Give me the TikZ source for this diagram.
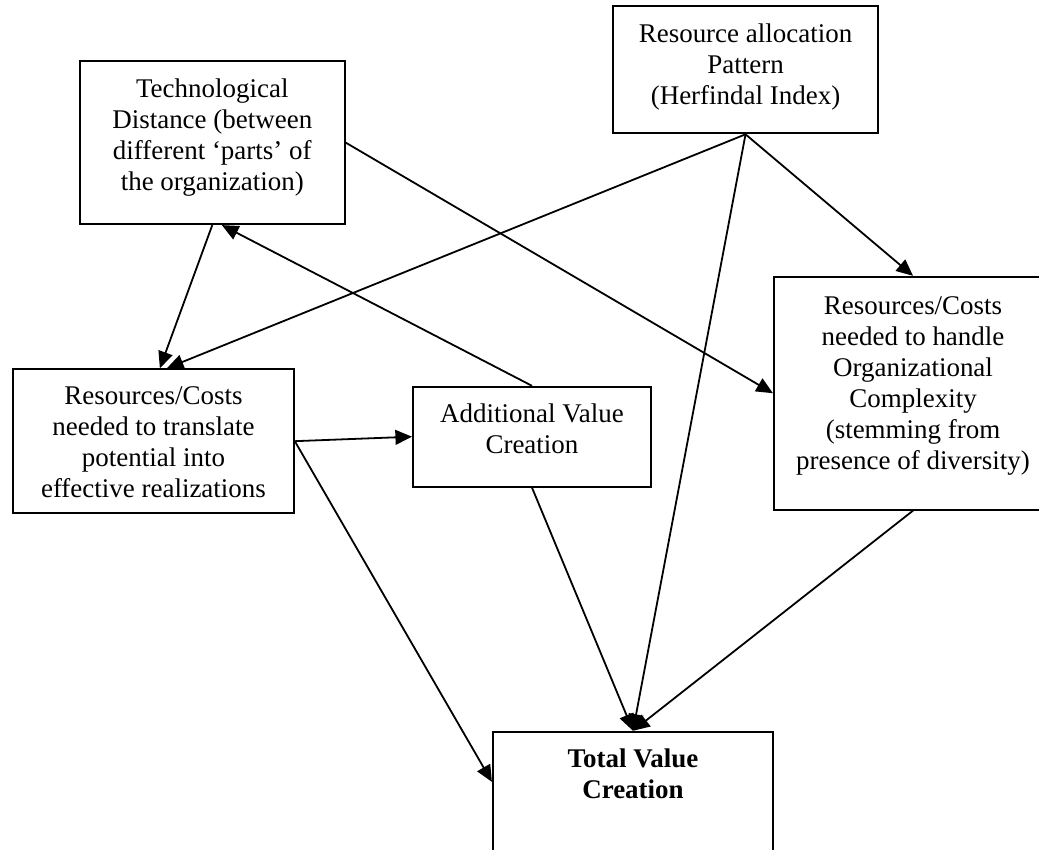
\documentclass[tikz,border=0pt]{standalone}
\usepackage{fontspec}
\setmainfont{Liberation Serif}
\usepackage{tikz}
\usetikzlibrary{arrows.meta,positioning,calc}
\tikzset{
  bx/.style={draw, line width=.9pt, inner sep=0pt},
  txt/.style={align=center, inner sep=0pt, font=\fontsize{12}{13.8}\selectfont},
  ar/.style={-{Triangle[length=2.6mm,width=2.3mm]}, line width=.8pt},
}

\begin{document}
\begin{tikzpicture}
    \useasboundingbox (0,0) rectangle (16.25,-13.28);
    % boxes
    \node[bx, minimum width=4.14cm, minimum height=2.55cm] (td) at (3.32,-2.23) {};
    \node[bx, minimum width=4.14cm, minimum height=1.99cm] (ra) at (11.66,-1.09) {};
    \node[bx, minimum width=4.39cm, minimum height=2.25cm] (rct) at (2.40,-6.90) {};
    \node[bx, minimum width=3.72cm, minimum height=1.56cm] (avc) at (8.32,-6.83) {};
    \node[bx, minimum width=4.35cm, minimum height=3.64cm] (rco) at (14.28,-6.15) {};
    \node[bx, minimum width=4.38cm, minimum height=2.19cm] (tvc) at (9.90,-12.54) {};
    % texts, top aligned
    \node[txt, below=0.28cm of td.north] (tdt) {Technological\\Distance (between\\different `parts' of\\the organization)};
    \node[txt, below=0.28cm of ra.north] (rat) {Resource allocation\\Pattern\\(Herfindal Index)};
    \node[txt, below=0.28cm of rct.north] (rctt) {Resources/Costs\\needed to translate\\potential into\\effective realizations};
    \node[txt, below=0.28cm of avc.north] (avct) {Additional Value\\Creation};
    \node[txt, below=0.32cm of rco.north] (rcot) {Resources/Costs\\needed to handle\\Organizational\\Complexity\\(stemming from\\presence of diversity)};
    \node[txt, below=0.28cm of tvc.north] (tvct) {\textbf{Total Value}\\\textbf{Creation}};
    % links
    \draw[ar] (td.south) -- ([xshift=0.1cm]rct.north);
    \draw[ar] (ra.south) -- ([xshift=0.21cm]rct.north);
    \draw[ar] (ra.south) -- (rco.north);
    \draw[ar] (ra.south) -- (tvc.north);
    \draw[ar] (td.east) -- (rco.west);
    \draw[ar] (avc.north) -- ([xshift=0.15cm]td.south);
    \draw[ar] (rct.east) -- (avc.west);
    \draw[ar] (rct.east) -- ([yshift=-0.8cm]tvc.north west);
    \draw[ar] (avc.south) -- (tvc.north);
    \draw[ar] (rco.south) -- (tvc.north);
\end{tikzpicture}
\end{document}
